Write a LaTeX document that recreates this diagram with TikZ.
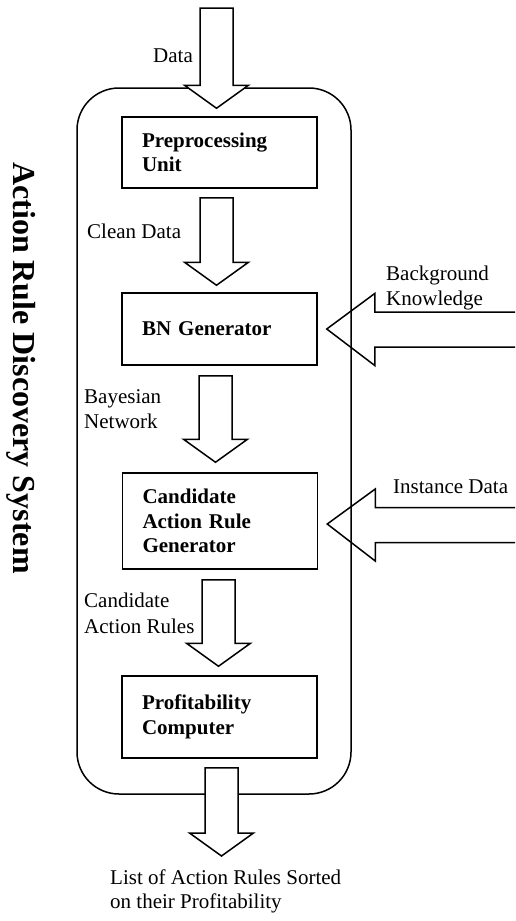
\documentclass[tikz,border=0pt]{standalone}
\usepackage{fontspec}
\setmainfont{Liberation Serif}
\usetikzlibrary{calc}
\tikzset{
  lw/.style={line width=1.5pt},
  unit/.style={lw, draw, rectangle, minimum width=195pt, inner xsep=20pt, text width=155pt, align=left,
     font=\fontsize{21}{24.5}\selectfont\bfseries},
  lbl/.style={anchor=base west, inner sep=0pt, font=\fontsize{21}{24.5}\selectfont},
  blk/.style={lw, line join=miter},
}
\newcommand\downblock[2]{%
  \draw[blk, fill=white] let \p1=(#1), \p2=(#2) in
    (\x1-16.5pt,\y1) -- (\x1-16.5pt,\y2+23pt) -- (\x1-32pt,\y2+23pt) -- (\x1,\y2)
    -- (\x1+32pt,\y2+23pt) -- (\x1+16.5pt,\y2+23pt) -- (\x1+16.5pt,\y1) -- cycle;}
\newcommand\leftblock[2]{%
  \draw[blk] let \p1=(#1), \p2=(#2) in
    (\x1,\y1+17.5pt) -- (\x2+48pt,\y1+17.5pt) -- (\x2+48pt,\y1+36pt) -- (\x2,\y2)
    -- (\x2+48pt,\y1-36pt) -- (\x2+48pt,\y1-17.5pt) -- (\x1,\y1-17.5pt);}
\begin{document}
\begin{tikzpicture}[x=1pt,y=-1pt]
\useasboundingbox (0,0) rectangle (515,921);
% system frame
\node[lw, draw, rounded corners=42pt, minimum width=274pt, minimum height=706pt] (sys) at (214,441) {};
% title
\node[anchor=base west, inner sep=0pt, rotate=-90, font=\fontsize{32}{36}\selectfont\bfseries] (title) at (13,162) {Action Rule Discovery System};
% units
\node[unit, minimum height=71pt] (pre) at (219.5,152.5) {Preprocessing\\Unit};
\node[unit, minimum height=72pt] (bn) at (219.5,329) {BN Generator};
\node[unit, minimum height=96pt] (cand) at (220,521) {Candidate\\Action Rule\\Generator};
\node[unit, minimum height=82pt] (prof) at (219.5,717) {Profitability\\Computer};
% arrow ends
\coordinate (dataT) at (216.5,8);
\coordinate (dataH) at ($(pre.north)+(-3,-8)$);
\coordinate (cleanT) at ($(pre.south)+(-3,9)$);
\coordinate (cleanH) at ($(bn.north)+(-3,-7)$);
\coordinate (bayT) at ($(bn.south)+(-4,10)$);
\coordinate (bayH) at ($(cand.north)+(-4.5,-10)$);
\coordinate (carT) at ($(cand.south)+(-1.5,10)$);
\coordinate (carH) at ($(prof.north)+(-1,-9)$);
\coordinate (outT) at ($(prof.south)+(2,9)$);
\coordinate (outH) at (221.5,856);
\coordinate (bkT) at (515,329.5);
\coordinate (bkH) at ($(bn.east)+(9,0)$);
\coordinate (instT) at (515,525);
\coordinate (instH) at ($(cand.east)+(9,3)$);
% block arrows
\downblock{dataT}{dataH}
\downblock{cleanT}{cleanH}
\downblock{bayT}{bayH}
\downblock{carT}{carH}
\downblock{outT}{outH}
\leftblock{bkT}{bkH}
\leftblock{instT}{instH}
% labels
\node[lbl] (ldata) at (153,62) {Data};
\node[lbl] (lclean) at (87,238) {Clean Data};
\node[lbl] (lbay1) at (84,403) {Bayesian};
\node[lbl] (lbay2) at (84,428) {Network};
\node[lbl] (lcar1) at (84,607) {Candidate};
\node[lbl] (lcar2) at (84,633) {Action Rules};
\node[lbl] (lbk1) at (386,280) {Background};
\node[lbl] (lbk2) at (386,305) {Knowledge};
\node[lbl] (linst) at (393,493) {Instance Data};
\node[lbl] (lout1) at (110,884) {List of Action Rules Sorted};
\node[lbl] (lout2) at (110,908) {on their Profitability};
\end{tikzpicture}
\end{document}
